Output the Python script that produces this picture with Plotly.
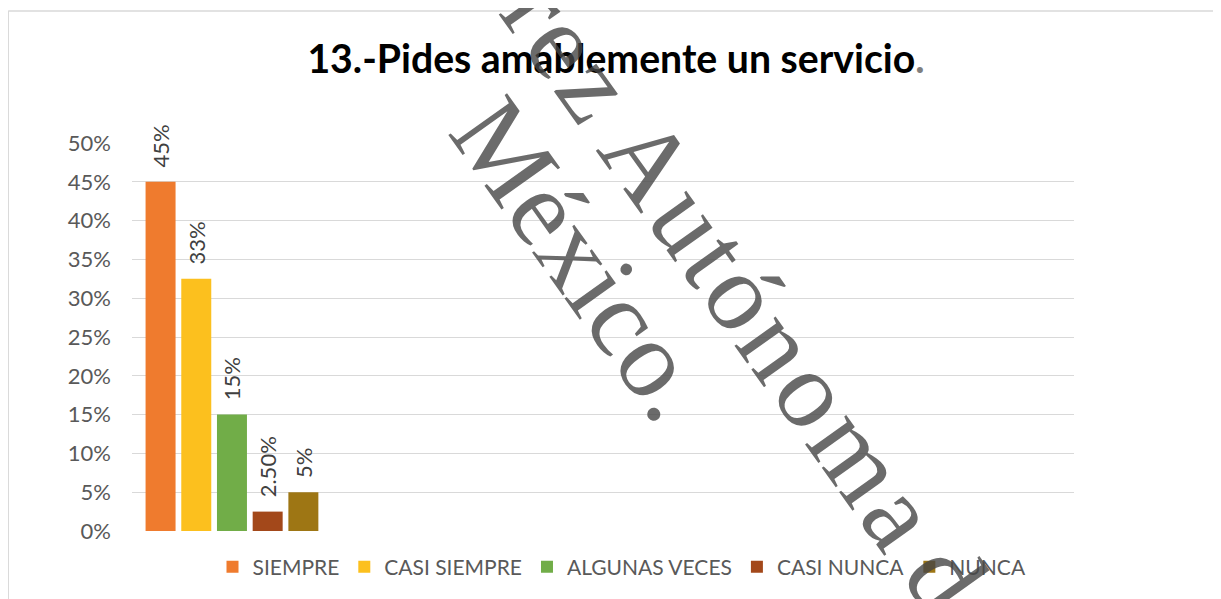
import math
import plotly.graph_objects as go

# ---------------- data ----------------
categories = ["SIEMPRE", "CASI SIEMPRE", "ALGUNAS VECES", "CASI NUNCA", "NUNCA"]
values = [0.45, 0.325, 0.15, 0.025, 0.05]
value_labels = ["45%", "33%", "15%", "2.50%", "5%"]
bar_colors = ["#EF7B2E", "#FCC01E", "#71AD48", "#A3481A", "#9E7614"]
y_tick_values = [0, 0.05, 0.10, 0.15, 0.20, 0.25, 0.30, 0.35, 0.40, 0.45, 0.50]
y_tick_labels = ["0%", "5%", "10%", "15%", "20%", "25%", "30%", "35%", "40%", "45%", "50%"]
question = "13.-Pides amablemente un servicio"
group_label = ["P13"]

# ---------------- layout geometry (page has an 8px body margin) ----------------
OFF = 8
PAGE_W, PAGE_H = 1221, 599
W, H = PAGE_W - OFF, PAGE_H - OFF
PLOT_L, PLOT_R, PLOT_T, PLOT_B = 132, 1074, 143, 531   # in page pixels
ML, MR = PLOT_L - OFF, W - (PLOT_R - OFF)
MT, MB = PLOT_T - OFF, H - (PLOT_B - OFF)
PW, PH = W - ML - MR, H - MT - MB

def px_to_paper(px, py):
    """page pixel -> paper coordinates"""
    return (px - PLOT_L) / PW, (PLOT_B - py) / PH

FONT = "Lato, 'Open Sans', sans-serif"
NBSP = "\u00a0"

fig = go.Figure()
for name, v, lab, col in zip(categories, values, value_labels, bar_colors):
    fig.add_trace(go.Bar(
        name=name, x=group_label, y=[v],
        marker=dict(color=col, line=dict(width=0)),
        text=[NBSP * 2 + lab], textposition="outside", textangle=-90,
        textfont=dict(family=FONT, size=22, color="#404040"),
        constraintext="none", cliponaxis=False,
        hoverinfo="skip",
    ))

# ---------------- watermark (per-letter, spaced) ----------------
adv = {"J": .389, "u": .5, "á": .444, "r": .333, "e": .444, "z": .444, " ": .16,
       "A": .722, "t": .278, "ó": .5, "n": .5, "o": .5, "m": .778, "a": .444,
       "d": .5, "M": .889, "é": .444, "x": .5, "i": .278, "c": .444, ".": .25}
WM_SIZE = 110
ANG = 54.5
WM_COLOR = "rgba(70,70,70,0.8)"
ca, sa = math.cos(math.radians(ANG)), math.sin(math.radians(ANG))

annotations = []

def place_line(text, ref_idx, ref_px, em, skip_first=0):
    pos = []
    cur = 0.0
    for ch in text:
        w = adv.get(ch, 0.5)
        pos.append(cur + w / 2)
        cur += w
    ref_em = pos[ref_idx]
    for k, (ch, p) in enumerate(zip(text, pos)):
        if ch == " " or k < skip_first:
            continue
        d = (p - ref_em) * em
        x, y = ref_px[0] + d * ca, ref_px[1] + d * sa
        xp, yp = px_to_paper(x, y)
        annotations.append(dict(
            text=ch, x=xp, y=yp, xref="paper", yref="paper",
            xanchor="center", yanchor="middle", showarrow=False,
            textangle=ANG,
            font=dict(family="'Liberation Serif', 'DejaVu Serif', serif",
                      size=WM_SIZE, color=WM_COLOR),
        ))

place_line("Juárez Autónoma de", 7, (648, 160), 120.0, skip_first=3)
place_line("México.", 6, (680, 396), 110.0)

# ---------------- frame lines ----------------
x_left, y_top = px_to_paper(OFF + 0.2, 11)
x_right, y_bot = px_to_paper(PAGE_W + 20, PAGE_H + 20)
shapes = [
    dict(type="line", xref="paper", yref="paper", x0=x_left, y0=y_top, x1=x_right, y1=y_top,
         line=dict(color="#D9D9D9", width=1.5)),
    dict(type="line", xref="paper", yref="paper", x0=x_left, y0=y_top, x1=x_left, y1=y_bot,
         line=dict(color="#D9D9D9", width=1.5)),
]

leg_x, leg_y = px_to_paper(622, 567)

fig.update_layout(
    width=W, height=H, autosize=False,
    margin=dict(l=ML, r=MR, t=MT, b=MB, pad=0, autoexpand=False),
    paper_bgcolor="white", plot_bgcolor="white",
    barmode="group", bargap=0.0, bargroupgap=0.16,
    title=dict(
        text="<b>" + question + "<span style='color:#7F7F7F'>.</span></b>",
        x=(616 - OFF) / W, xref="container", xanchor="center",
        y=1 - (59 - OFF) / H, yref="container", yanchor="middle",
        font=dict(family=FONT, size=39.2, color="#000000"),
    ),
    xaxis=dict(type="category", range=[-0.560, 4.717], showticklabels=False,
               showgrid=False, zeroline=False, showline=False, ticks="", fixedrange=True),
    yaxis=dict(range=[0, 0.5], tickvals=y_tick_values, ticktext=y_tick_labels,
               showgrid=True, gridcolor="#D9D9D9", gridwidth=1.3,
               zeroline=False, showline=False, ticks="", ticklabelstandoff=20,
               tickfont=dict(family=FONT, size=22, color="#595959")),
    legend=dict(orientation="h", xref="paper", yref="paper",
                x=leg_x, xanchor="center", y=leg_y, yanchor="middle",
                font=dict(family=FONT, size=21, color="#595959"),
                itemwidth=30, traceorder="normal"),
    showlegend=True,
    annotations=annotations,
    shapes=shapes,
)

fig.write_html("out.html")
